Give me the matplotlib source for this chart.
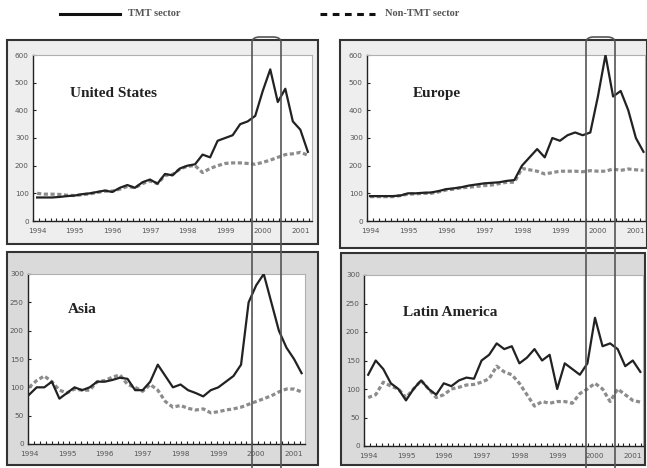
import numpy as np
import matplotlib
matplotlib.use("Agg")
import matplotlib.pyplot as plt
from matplotlib.patches import Rectangle, FancyBboxPatch
from matplotlib.lines import Line2D

# ---- data (index values, five observations per year, 1994.0 - 2001.2) ----
periods = 1994 + 0.2 * np.arange(37)
year_ticks = [1994, 1995, 1996, 1997, 1998, 1999, 2000, 2001]

us_tmt = [85, 85, 85, 87, 90, 92, 97, 100, 105, 110, 105, 120, 130, 120, 140, 150, 135, 170, 165,
          190, 200, 205, 240, 230, 290, 300, 310, 350, 360, 380, 470, 548, 430, 478, 360, 330, 250]
us_non = [100, 97, 97, 96, 93, 92, 95, 98, 103, 108, 108, 115, 125, 120, 135, 145, 135, 165, 168,
          188, 198, 200, 175, 190, 200, 208, 210, 210, 208, 205, 212, 220, 230, 240, 243, 248, 238]

eu_tmt = [90, 90, 90, 90, 92, 100, 100, 102, 103, 108, 115, 118, 122, 128, 132, 136, 138, 140, 145,
          148, 200, 230, 260, 230, 300, 290, 310, 320, 310, 320, 450, 600, 450, 470, 400, 300, 250]
eu_non = [88, 88, 88, 88, 92, 97, 98, 100, 100, 105, 112, 115, 120, 122, 125, 128, 130, 135, 140,
          140, 190, 185, 180, 170, 175, 180, 180, 180, 178, 182, 180, 180, 188, 183, 188, 185, 183]

as_tmt = [87, 100, 100, 110, 80, 90, 100, 95, 100, 110, 110, 113, 117, 115, 95, 95, 110, 140, 120,
          100, 105, 95, 90, 84, 95, 100, 110, 120, 140, 250, 280, 300, 250, 200, 170, 150, 125]
as_non = [100, 112, 120, 110, 95, 90, 97, 95, 95, 110, 112, 118, 122, 105, 100, 93, 105, 95, 75,
          65, 68, 63, 60, 62, 55, 57, 60, 62, 65, 70, 75, 80, 85, 92, 97, 97, 92]

la_tmt = [125, 150, 135, 110, 100, 80, 100, 115, 100, 90, 110, 105, 115, 120, 118, 150, 160, 180, 170,
          175, 145, 155, 170, 150, 160, 100, 145, 135, 125, 145, 225, 175, 180, 170, 140, 150, 130]
la_non = [85, 90, 112, 105, 100, 85, 100, 115, 100, 85, 90, 100, 103, 107, 108, 112, 118, 140, 130,
          125, 110, 90, 70, 78, 75, 78, 78, 75, 92, 100, 110, 100, 78, 100, 90, 80, 77]

W, H = 647, 468
fig = plt.figure(figsize=(W / 100, H / 100), dpi=100)
fig.patch.set_facecolor("white")


def fx(px):
    return px / W


def fy(py):
    return 1 - py / H


# outer panel frames (pixel boxes: x0, y0(top), x1, y1(bottom))
panels = [
    ((7, 40, 318, 244), "#eeeeee"),
    ((340, 40, 647, 248), "#eeeeee"),
    ((7, 252, 318, 465), "#dadada"),
    ((341, 253, 645, 465), "#dadada"),
]
for (x0, y0, x1, y1), fc in panels:
    r = Rectangle((fx(x0), fy(y1)), fx(x1 - x0), (y1 - y0) / H, transform=fig.transFigure,
                  facecolor=fc, edgecolor="#333333", linewidth=1.5, zorder=-5)
    fig.add_artist(r)

specs = [
    # axes box px (left, top, right, bottom), ymax, yticks step, xlim, title, title pos, series
    ((33, 55, 312, 221), 600, 100, (1993.89, 2001.31), "United States", (0.133, 0.77), us_tmt, us_non),
    ((367, 55, 645, 221), 600, 100, (1993.92, 2001.24), "Europe", (0.165, 0.77), eu_tmt, eu_non),
    ((28, 274, 305, 444), 300, 50, (1993.97, 2001.29), "Asia", (0.144, 0.79), as_tmt, as_non),
    ((364, 275, 643, 446), 300, 50, (1993.89, 2001.27), "Latin America", (0.14, 0.78), la_tmt, la_non),
]

for (l, t, r, b), ymax, step, xlim, title, tpos, tmt, non in specs:
    ax = fig.add_axes([fx(l), fy(b), (r - l) / W, (b - t) / H])
    ax.set_facecolor("white")
    ax.plot(periods, non, color="#8c8c8c", lw=2.3, dashes=(1.3, 0.8), solid_capstyle="butt", zorder=2)
    ax.plot(periods, tmt, color="#222222", lw=1.6, zorder=3)
    ax.set_xlim(*xlim)
    ax.set_ylim(0, ymax)
    ax.set_yticks(np.arange(0, ymax + 1, step))
    ax.set_xticks(year_ticks)
    ax.set_xticks(np.arange(xlim[0], xlim[1], 0.156), minor=True)
    ax.tick_params(axis="both", which="major", direction="in", length=2.5, width=0.8,
                   labelsize=5.2, labelcolor="#555555", color="#222222", pad=3)
    ax.tick_params(axis="x", which="major", length=0, pad=5)
    ax.tick_params(axis="x", which="minor", direction="in", length=2.5, width=0.8, color="#222222")
    for s in ("top", "right"):
        ax.spines[s].set_color("#b0b0b0")
        ax.spines[s].set_linewidth(0.8)
    for s in ("left", "bottom"):
        ax.spines[s].set_color("#222222")
        ax.spines[s].set_linewidth(1.0)
    ax.text(tpos[0], tpos[1], title, transform=ax.transAxes, ha="left", va="center",
            fontsize=11, fontweight="bold", family="Liberation Serif", color="#222222")

# legend at top
fig.add_artist(Line2D([fx(60), fx(120)], [fy(14), fy(14)], transform=fig.transFigure,
                      color="#111111", lw=2.2))
fig.text(fx(128), fy(14), "TMT sector", ha="left", va="center", fontsize=7.5, fontweight="bold",
         family="Liberation Serif", color="#555555")
fig.add_artist(Line2D([fx(320), fx(375)], [fy(14), fy(14)], transform=fig.transFigure,
                      color="#111111", lw=2.2, dashes=(2.2, 1.8)))
fig.text(fx(385), fy(14), "Non-TMT sector", ha="left", va="center", fontsize=7.5, fontweight="bold",
         family="Liberation Serif", color="#555555")

# highlight bands (rounded top)
for x0, x1 in [(252, 281), (586, 615)]:
    p = FancyBboxPatch((fx(x0), fy(480)), fx(x1 - x0), (480 - 37) / H,
                       boxstyle="round,pad=0,rounding_size=0.012", transform=fig.transFigure,
                       facecolor="none", edgecolor="#555555", linewidth=1.2, zorder=10)
    fig.add_artist(p)

fig.savefig("out.png", dpi=100)
